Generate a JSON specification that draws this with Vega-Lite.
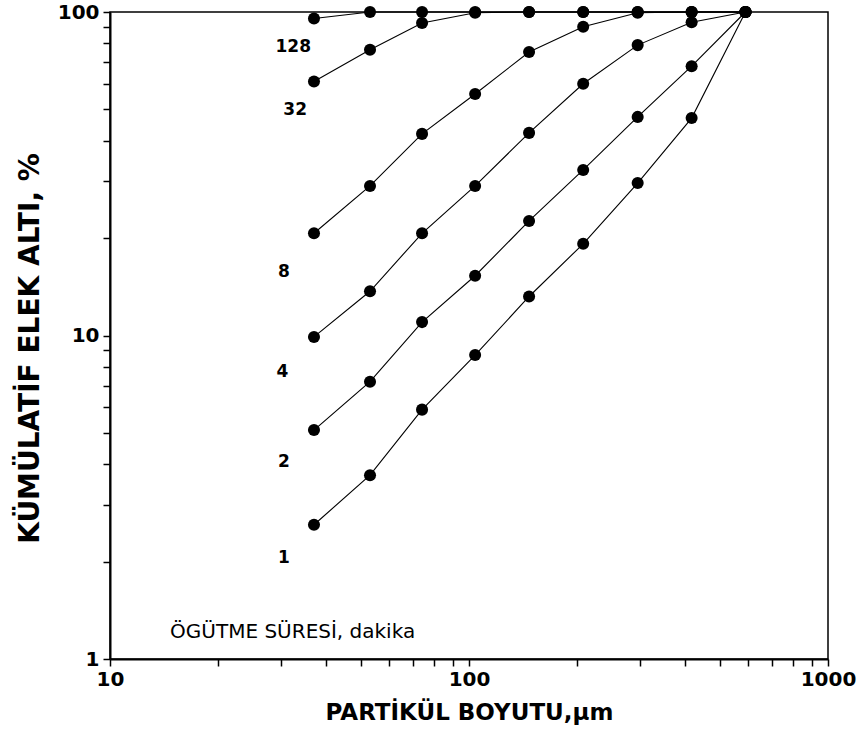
{
  "$schema": "https://vega.github.io/schema/vega-lite/v6.json",
  "autosize": {"type": "none"},
  "padding": {"left": 110, "top": 12, "right": 32, "bottom": 85},
  "width": 718,
  "height": 647,
  "background": "white",
  "config": {
    "view": {"stroke": "black", "strokeWidth": 1.5},
    "axis": {"grid": false, "domainColor": "black", "domainWidth": 2, "tickColor": "black", "tickWidth": 1.5, "tickSize": 7, "labelColor": "black", "titleColor": "black", "labelFont": "DejaVu Sans", "labelFontWeight": "bold", "labelFontSize": 20, "titleFont": "DejaVu Sans", "titleFontWeight": "bold"}
  },
  "datasets": {
    "points": [
      {"seri": "1", "boyut": 37, "yuzde": 2.6}, {"seri": "1", "boyut": 53, "yuzde": 3.7}, {"seri": "1", "boyut": 74, "yuzde": 5.9}, {"seri": "1", "boyut": 104, "yuzde": 8.7}, {"seri": "1", "boyut": 147, "yuzde": 13.2}, {"seri": "1", "boyut": 208, "yuzde": 19.2}, {"seri": "1", "boyut": 295, "yuzde": 29.6}, {"seri": "1", "boyut": 417, "yuzde": 47}, {"seri": "1", "boyut": 589, "yuzde": 100},
      {"seri": "2", "boyut": 37, "yuzde": 5.1}, {"seri": "2", "boyut": 53, "yuzde": 7.2}, {"seri": "2", "boyut": 74, "yuzde": 11.0}, {"seri": "2", "boyut": 104, "yuzde": 15.3}, {"seri": "2", "boyut": 147, "yuzde": 22.6}, {"seri": "2", "boyut": 208, "yuzde": 32.5}, {"seri": "2", "boyut": 295, "yuzde": 47.4}, {"seri": "2", "boyut": 417, "yuzde": 68}, {"seri": "2", "boyut": 589, "yuzde": 100},
      {"seri": "4", "boyut": 37, "yuzde": 9.9}, {"seri": "4", "boyut": 53, "yuzde": 13.7}, {"seri": "4", "boyut": 74, "yuzde": 20.7}, {"seri": "4", "boyut": 104, "yuzde": 29}, {"seri": "4", "boyut": 147, "yuzde": 42.3}, {"seri": "4", "boyut": 208, "yuzde": 60}, {"seri": "4", "boyut": 295, "yuzde": 79}, {"seri": "4", "boyut": 417, "yuzde": 93}, {"seri": "4", "boyut": 589, "yuzde": 100},
      {"seri": "8", "boyut": 37, "yuzde": 20.7}, {"seri": "8", "boyut": 53, "yuzde": 29}, {"seri": "8", "boyut": 74, "yuzde": 42}, {"seri": "8", "boyut": 104, "yuzde": 55.8}, {"seri": "8", "boyut": 147, "yuzde": 75.2}, {"seri": "8", "boyut": 208, "yuzde": 90}, {"seri": "8", "boyut": 295, "yuzde": 99.5}, {"seri": "8", "boyut": 417, "yuzde": 100}, {"seri": "8", "boyut": 589, "yuzde": 100},
      {"seri": "32", "boyut": 37, "yuzde": 61}, {"seri": "32", "boyut": 53, "yuzde": 76.4}, {"seri": "32", "boyut": 74, "yuzde": 92.5}, {"seri": "32", "boyut": 104, "yuzde": 99.5}, {"seri": "32", "boyut": 147, "yuzde": 100}, {"seri": "32", "boyut": 208, "yuzde": 100}, {"seri": "32", "boyut": 295, "yuzde": 100}, {"seri": "32", "boyut": 417, "yuzde": 100}, {"seri": "32", "boyut": 589, "yuzde": 100},
      {"seri": "128", "boyut": 37, "yuzde": 95.5}, {"seri": "128", "boyut": 53, "yuzde": 100}, {"seri": "128", "boyut": 74, "yuzde": 100}, {"seri": "128", "boyut": 104, "yuzde": 100}, {"seri": "128", "boyut": 147, "yuzde": 100}, {"seri": "128", "boyut": 208, "yuzde": 100}, {"seri": "128", "boyut": 295, "yuzde": 100}, {"seri": "128", "boyut": 417, "yuzde": 100}, {"seri": "128", "boyut": 589, "yuzde": 100}
    ],
    "labels": [
      {"text": "128", "boyut": 32.4, "yuzde": 78},
      {"text": "32", "boyut": 32.8, "yuzde": 49.8},
      {"text": "8", "boyut": 30.5, "yuzde": 15.7},
      {"text": "4", "boyut": 30.2, "yuzde": 7.7},
      {"text": "2", "boyut": 30.5, "yuzde": 4.06},
      {"text": "1", "boyut": 30.5, "yuzde": 2.05}
    ],
    "caption": [
      {"text": "ÖGÜTME SÜRESİ, dakika", "boyut": 14.7, "yuzde": 1.21}
    ]
  },
  "encoding": {
    "x": {
      "field": "boyut", "type": "quantitative",
      "scale": {"type": "log", "domain": [10, 1000], "nice": false},
      "axis": {
        "title": "PARTİKÜL BOYUTU,µm",
        "titleFontSize": 23,
        "titleX": 359, "titleY": 53, "titleBaseline": "middle", "titleAlign": "center",
        "values": [10, 20, 30, 40, 50, 60, 70, 80, 90, 100, 200, 300, 400, 500, 600, 700, 800, 900, 1000],
        "format": "d",
        "labelExpr": "(datum.value == 10 || datum.value == 100 || datum.value == 1000) ? datum.label : ''",
        "labelPadding": 3,
        "labelFlush": false,
        "labelOverlap": false
      }
    },
    "y": {
      "field": "yuzde", "type": "quantitative",
      "scale": {"type": "log", "domain": [1, 100], "nice": false},
      "axis": {
        "title": "KÜMÜLATİF ELEK ALTI, %",
        "titleFontSize": 28,
        "titleX": -80, "titleY": 336, "titleAngle": 270, "titleBaseline": "middle", "titleAlign": "center",
        "values": [1, 2, 3, 4, 5, 6, 7, 8, 9, 10, 20, 30, 40, 50, 60, 70, 80, 90, 100],
        "format": "d",
        "labelExpr": "(datum.value == 1 || datum.value == 10 || datum.value == 100) ? datum.label : ''",
        "labelPadding": 4,
        "labelFlush": false,
        "labelOverlap": false
      }
    }
  },
  "layer": [
    {
      "data": {"name": "points"},
      "mark": {"type": "line", "color": "black", "strokeWidth": 1.1},
      "encoding": {"detail": {"field": "seri"}, "order": {"field": "boyut"}}
    },
    {
      "data": {"name": "points"},
      "mark": {"type": "point", "filled": true, "color": "black", "opacity": 1, "size": 145}
    },
    {
      "data": {"name": "labels"},
      "mark": {"type": "text", "font": "DejaVu Sans", "fontSize": 17, "fontWeight": "bold", "color": "black", "align": "center", "baseline": "middle"},
      "encoding": {"text": {"field": "text"}}
    },
    {
      "data": {"name": "caption"},
      "mark": {"type": "text", "font": "DejaVu Sans", "fontSize": 20, "color": "black", "align": "left", "baseline": "middle"},
      "encoding": {"text": {"field": "text"}}
    }
  ]
}
